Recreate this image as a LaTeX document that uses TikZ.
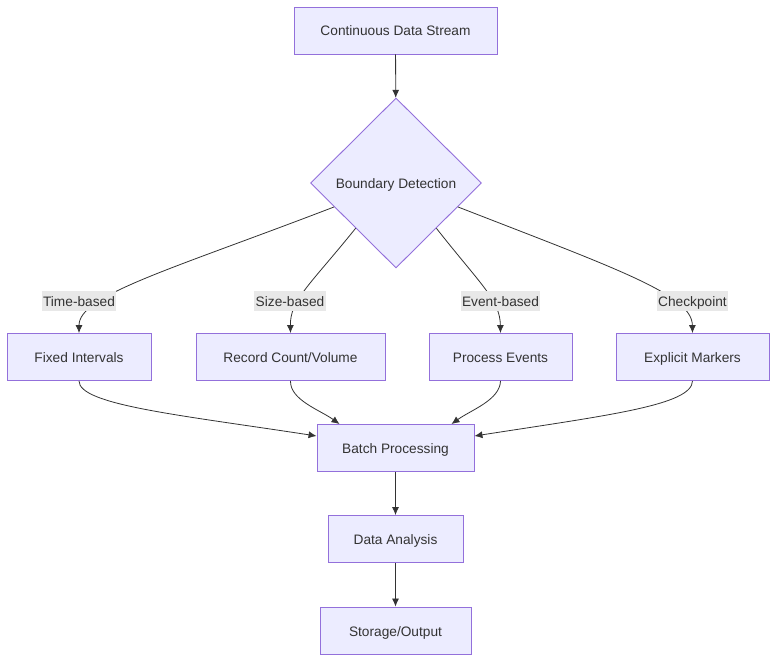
\documentclass[tikz,border=0pt]{standalone}
\usepackage{fontspec}
\setmainfont{Liberation Sans}
\usetikzlibrary{shapes.geometric,arrows.meta,calc}
\definecolor{nodefill}{HTML}{ECECFF}
\definecolor{nodeline}{HTML}{9370DB}
\definecolor{edgecol}{HTML}{333333}
\definecolor{lblfill}{HTML}{E8E8E8}
\tikzset{
  txt/.style={text=edgecol, font=\fontsize{13.7}{16}\selectfont, text height=12pt, text depth=1pt},
  box/.style={txt, draw=nodeline, fill=nodefill, line width=0.9pt, minimum height=47, inner sep=0pt},
  dia/.style={txt, diamond, draw=nodeline, fill=nodefill, line width=0.9pt, minimum width=171, minimum height=170, inner sep=0pt},
  lbl/.style={txt, fill=lblfill, inner sep=1.5pt, minimum height=20},
  edge/.style={draw=edgecol, line width=0.8pt, -{Latex[length=8pt,width=7pt]}},
}
\begin{document}
\begin{tikzpicture}[x=1pt,y=-1pt]
\useasboundingbox (0,0) rectangle (784,669);
\node[box, minimum width=203] (cds) at (395.5,30.5) {Continuous Data Stream};
\node[dia] (bd) at (396,183) {Boundary Detection};
\node[box, minimum width=144] (fi) at (79,357) {Fixed Intervals};
\node[box, minimum width=189] (rc) at (290.5,357) {Record Count/Volume};
\node[box, minimum width=143] (pe) at (500.5,357) {Process Events};
\node[box, minimum width=153] (em) at (692.5,357) {Explicit Markers};
\node[box, minimum width=157] (bp) at (395.5,448) {Batch Processing};
\node[box, minimum width=135] (da) at (395.5,539) {Data Analysis};
\node[box, minimum width=151] (so) at (395.5,630.5) {Storage/Output};

\draw[edge] (cds) -- (bd);
\coordinate (s1) at ($(bd.west)!0.28!(bd.south)$);
\coordinate (s2) at ($(bd.west)!0.53!(bd.south)$);
\coordinate (s3) at ($(bd.east)!0.53!(bd.south)$);
\coordinate (s4) at ($(bd.east)!0.28!(bd.south)$);
\draw[edge] (s1) .. controls (170,270) and (79,295) .. (fi.north);
\draw[edge] (s2) .. controls (310,285) and (290,300) .. (rc.north);
\draw[edge] (s3) .. controls (481,285) and (500,300) .. (pe.north);
\draw[edge] (s4) .. controls (620,270) and (692,295) .. (em.north);
\node[lbl] (l1) at (79,301) {Time-based};
\node[lbl] (l2) at (290,301) {Size-based};
\node[lbl] (l3) at (500.5,301) {Event-based};
\node[lbl] (l4) at (692.5,301) {Checkpoint};

\draw[edge] (fi.south) .. controls (79,405) and (180,415) .. ([yshift=12pt]bp.west);
\draw[edge] (rc.south) .. controls (290,400) and (320,410) .. ([xshift=-56pt]bp.north);
\draw[edge] (pe.south) .. controls (500,400) and (471,410) .. ([xshift=56pt]bp.north);
\draw[edge] (em.south) .. controls (692,405) and (610,415) .. ([yshift=12pt]bp.east);
\draw[edge] (bp) -- (da);
\draw[edge] (da) -- (so);
\end{tikzpicture}
\end{document}
